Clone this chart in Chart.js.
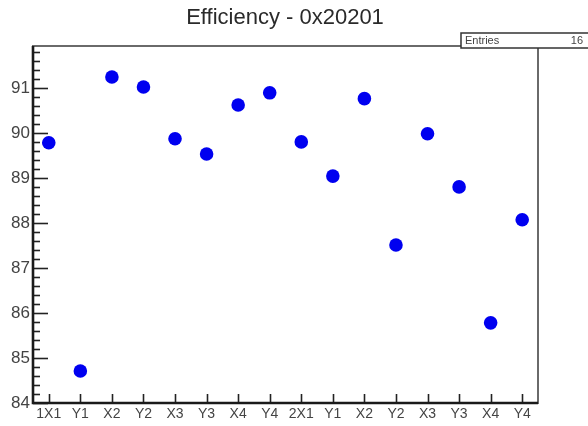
<!DOCTYPE html>
<html>
<head>
<meta charset="utf-8">
<script src="https://cdn.jsdelivr.net/npm/chart.js@4/dist/chart.umd.min.js"></script>
<style>
  html, body { margin: 0; padding: 0; background: #fff; }
  #wrap { width: 588px; height: 426px; }
</style>
</head>
<body>
<div id="wrap"><canvas id="c" width="588" height="426"></canvas></div>
<script>
// Channel labels, one bin per channel
const channels = ['1X1', 'Y1', 'X2', 'Y2', 'X3', 'Y3', 'X4', 'Y4',
                  '2X1', 'Y1', 'X2', 'Y2', 'X3', 'Y3', 'X4', 'Y4'];
// Efficiency per channel (%)
const efficiency = [89.78, 84.71, 91.24, 91.02, 89.87, 89.53, 90.62, 90.89,
                    89.80, 89.04, 90.76, 87.51, 89.98, 88.80, 85.78, 88.07];
const yMin = 84;
const yMax = 91.93;
const titleText = 'Efficiency - 0x20201';
const statsLabel = 'Entries';
const statsValue = String(efficiency.length);

// Frame, inward ticks and the stats box
const framePlugin = {
  id: 'frame',
  afterDatasetsDraw(chart) {
    const { ctx, chartArea: a, scales } = chart;
    const ys = scales.y, xs = scales.x;
    ctx.save();
    // outer frame
    ctx.strokeStyle = '#6a6a6a';
    ctx.lineWidth = 2;
    ctx.strokeRect(a.left, a.top, a.right - a.left, a.bottom - a.top);
    // y axis ticks (major every 1, minor every 0.2), pointing inward
    ctx.strokeStyle = '#222';
    ctx.lineWidth = 1.6;
    for (let i = 0; ; i++) {
      const v = yMin + i * 0.2;
      if (v > yMax + 1e-9) break;
      const p = Math.round(ys.getPixelForValue(v)) + 0.5;
      const major = Math.abs(v - Math.round(v)) < 1e-6;
      ctx.beginPath();
      ctx.moveTo(a.left, p);
      ctx.lineTo(a.left + (major ? 15 : 7), p);
      ctx.stroke();
    }
    // x axis ticks at bin centres
    for (let i = 0; i < channels.length; i++) {
      const p = Math.round(xs.getPixelForValue(i)) + 0.5;
      ctx.beginPath();
      ctx.moveTo(p, a.bottom);
      ctx.lineTo(p, a.bottom - 9);
      ctx.stroke();
    }
    // axis lines
    ctx.strokeStyle = '#1a1a1a';
    ctx.lineWidth = 2.6;
    ctx.beginPath();
    ctx.moveTo(a.left, a.top);
    ctx.lineTo(a.left, a.bottom);
    ctx.lineTo(a.right, a.bottom);
    ctx.stroke();
    // stats box
    const bx = 461, by = 33, bw = 140, bh = 15;
    ctx.fillStyle = '#fff';
    ctx.fillRect(bx, by, bw, bh);
    ctx.strokeStyle = '#333';
    ctx.lineWidth = 1.5;
    ctx.strokeRect(bx, by, bw, bh);
    ctx.fillStyle = '#444';
    ctx.font = '11px "Liberation Sans", Arial, sans-serif';
    ctx.textBaseline = 'middle';
    ctx.textAlign = 'left';
    ctx.fillText(statsLabel, bx + 4, by + bh / 2 + 0.5);
    ctx.textAlign = 'right';
    ctx.fillText(statsValue, 583, by + bh / 2 + 0.5);
    ctx.restore();
  }
};

new Chart(document.getElementById('c'), {
  type: 'line',
  data: {
    labels: channels,
    datasets: [{
      data: efficiency,
      showLine: false,
      pointRadius: 6.8,
      pointHoverRadius: 6.8,
      pointBackgroundColor: '#0000f0',
      pointBorderWidth: 0
    }]
  },
  options: {
    responsive: false,
    animation: false,
    events: [],
    layout: { padding: { left: 0, right: 18, top: 0, bottom: 0 } },
    plugins: {
      legend: { display: false },
      tooltip: { enabled: false },
      title: {
        display: true,
        text: titleText,
        color: '#2a2a2a',
        font: { family: '"Liberation Sans", Arial, sans-serif', size: 22, weight: 'normal' },
        padding: { top: 5, bottom: 14.6 }
      }
    },
    scales: {
      x: {
        type: 'category',
        offset: true,
        grid: { display: false, drawTicks: false },
        border: { display: false },
        ticks: {
          color: '#444',
          font: { family: '"Liberation Sans", Arial, sans-serif', size: 14 },
          padding: 3,
          maxRotation: 0,
          autoSkip: false
        },
        afterFit(s) { s.height = 23; }
      },
      y: {
        min: yMin,
        max: yMax,
        grid: { display: false, drawTicks: false },
        border: { display: false },
        ticks: {
          stepSize: 1,
          color: '#444',
          font: { family: '"Liberation Sans", Arial, sans-serif', size: 17 },
          padding: 3,
          callback(v) {
            return Math.abs(v - Math.round(v)) < 1e-6 ? String(Math.round(v)) : '';
          }
        },
        afterFit(s) { s.width = 33; }
      },
      // blank right margin beside the frame
      yRight: {
        position: 'right',
        min: yMin,
        max: yMax,
        grid: { display: false, drawTicks: false },
        border: { display: false },
        ticks: { display: false },
        afterFit(s) { s.width = 32; }
      }
    }
  },
  plugins: [framePlugin]
});
</script>
</body>
</html>
